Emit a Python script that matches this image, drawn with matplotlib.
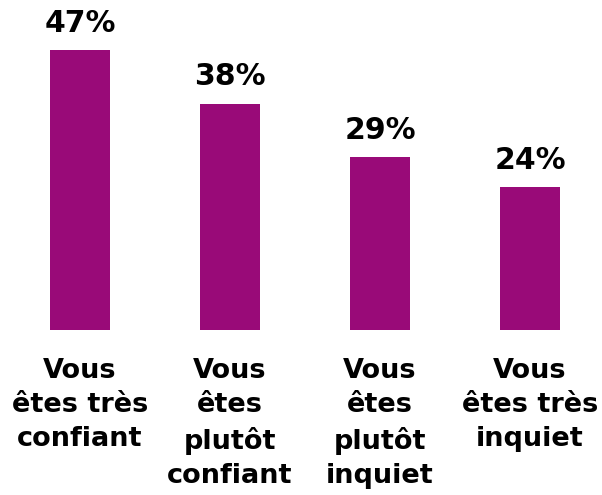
import matplotlib
matplotlib.use("Agg")
import matplotlib.pyplot as plt

categories = ["Vous\nêtes très\nconfiant", "Vous\nêtes\nplutôt\nconfiant",
              "Vous\nêtes\nplutôt\ninquiet", "Vous\nêtes très\ninquiet"]
values = [47, 38, 29, 24]
bar_color = "#990a78"

plt.rcParams['font.family'] = ['DejaVu Sans']

fig = plt.figure(figsize=(6.02, 4.95), dpi=100)
ax = fig.add_axes([0, 0, 1, 1])
x = list(range(len(values)))
ax.bar(x, values, width=0.4, color=bar_color)

# scale: 150 px per category, ~5.95 px per percent, baseline 165 px from bottom
ax.set_xlim(-80 / 150, -80 / 150 + 602 / 150)
ax.set_ylim(-165 / 5.95, (495 - 165) / 5.95)
ax.axis("off")

for xi, v in zip(x, values):
    ax.annotate(f"{v}%", (xi, v), xytext=(0, 9), textcoords="offset points",
                ha="center", va="bottom", fontsize=21.5, fontweight="bold")

for xi, lab in zip(x, categories):
    ax.annotate(lab, (xi, 0), xytext=(0, -20), textcoords="offset points",
                ha="center", va="top", fontsize=19.5, fontweight="bold",
                linespacing=1.4)

fig.savefig("out.png", dpi=100)
